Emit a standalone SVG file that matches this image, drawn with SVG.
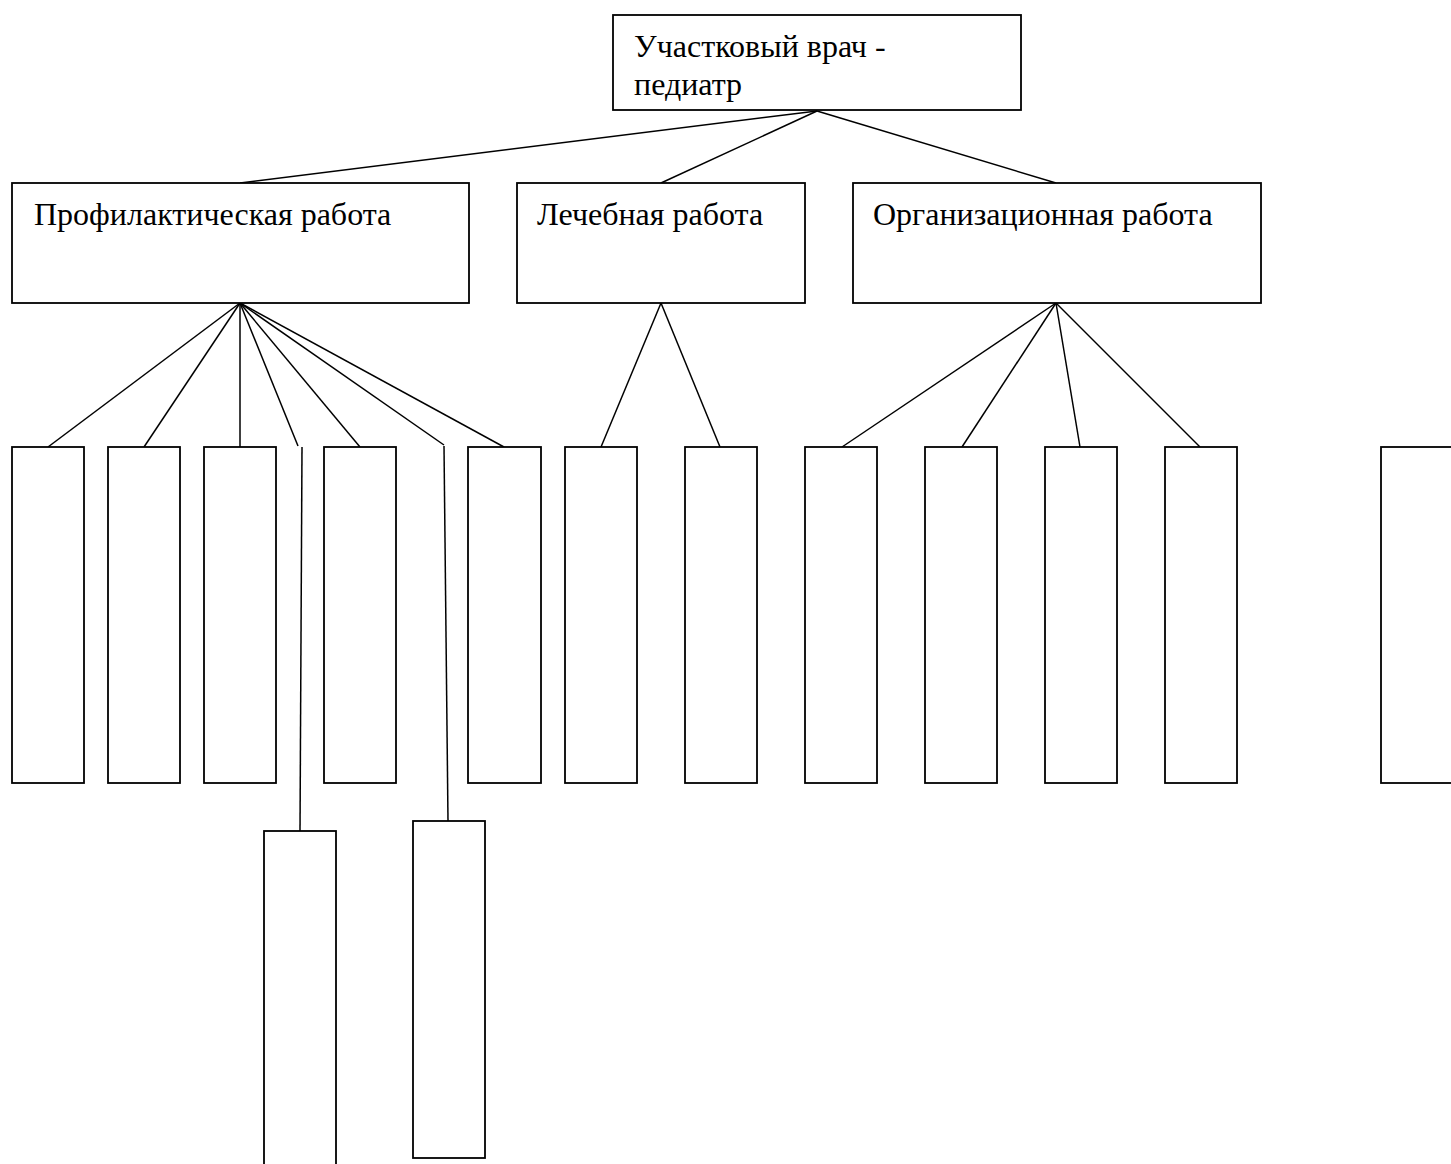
<svg xmlns="http://www.w3.org/2000/svg" width="1451" height="1164" viewBox="0 0 1451 1164">
<style>
.box{fill:#fff;stroke:#000;stroke-width:1.8}
.ln{fill:none;stroke:#000;stroke-width:1.5}
.t{font-family:"Liberation Serif","Times New Roman",serif;font-size:32px;fill:#000}
</style>
<rect width="1451" height="1164" fill="#fff"/>
<g id="connectors">
<line class="ln" x1="817" y1="111" x2="240" y2="183"/>
<line class="ln" x1="817" y1="111" x2="661" y2="183"/>
<line class="ln" x1="817" y1="111" x2="1056" y2="183"/>
<line class="ln" x1="240" y1="303" x2="48" y2="447"/>
<line class="ln" x1="240" y1="303" x2="144" y2="447"/>
<line class="ln" x1="240" y1="303" x2="240" y2="447"/>
<line class="ln" x1="240" y1="303" x2="298" y2="446"/>
<line class="ln" x1="302" y1="447" x2="300" y2="831"/>
<line class="ln" x1="240" y1="303" x2="360" y2="447"/>
<line class="ln" x1="240" y1="303" x2="444" y2="445"/>
<line class="ln" x1="444" y1="446" x2="448" y2="821"/>
<line class="ln" x1="240" y1="303" x2="504" y2="447"/>
<line class="ln" x1="661" y1="303" x2="601" y2="447"/>
<line class="ln" x1="661" y1="303" x2="720" y2="447"/>
<line class="ln" x1="1056" y1="303" x2="842" y2="447"/>
<line class="ln" x1="1056" y1="303" x2="962" y2="447"/>
<line class="ln" x1="1056" y1="303" x2="1080" y2="447"/>
<line class="ln" x1="1056" y1="303" x2="1200" y2="447"/>
</g>
<g id="root">
<rect class="box" x="613" y="15" width="408" height="95"/>
<text class="t" x="634" y="57">Участковый врач -</text>
<text class="t" x="634" y="95">педиатр</text>
</g>
<g id="prof">
<rect class="box" x="12" y="183" width="457" height="120"/>
<text class="t" x="34" y="225">Профилактическая работа</text>
</g>
<g id="lech">
<rect class="box" x="517" y="183" width="288" height="120"/>
<text class="t" x="537" y="225">Лечебная работа</text>
</g>
<g id="org">
<rect class="box" x="853" y="183" width="408" height="120"/>
<text class="t" x="873" y="225">Организационная работа</text>
</g>
<g id="p1"><rect class="box" x="12" y="447" width="72" height="336"/></g>
<g id="p2"><rect class="box" x="108" y="447" width="72" height="336"/></g>
<g id="p3"><rect class="box" x="204" y="447" width="72" height="336"/></g>
<g id="p4"><rect class="box" x="264" y="831" width="72" height="340"/></g>
<g id="p5"><rect class="box" x="324" y="447" width="72" height="336"/></g>
<g id="p6"><rect class="box" x="413" y="821" width="72" height="337"/></g>
<g id="p7"><rect class="box" x="468" y="447" width="73" height="336"/></g>
<g id="l1"><rect class="box" x="565" y="447" width="72" height="336"/></g>
<g id="l2"><rect class="box" x="685" y="447" width="72" height="336"/></g>
<g id="o1"><rect class="box" x="805" y="447" width="72" height="336"/></g>
<g id="o2"><rect class="box" x="925" y="447" width="72" height="336"/></g>
<g id="o3"><rect class="box" x="1045" y="447" width="72" height="336"/></g>
<g id="o4"><rect class="box" x="1165" y="447" width="72" height="336"/></g>
<g id="x1"><rect class="box" x="1381" y="447" width="80" height="336"/></g>
</svg>
